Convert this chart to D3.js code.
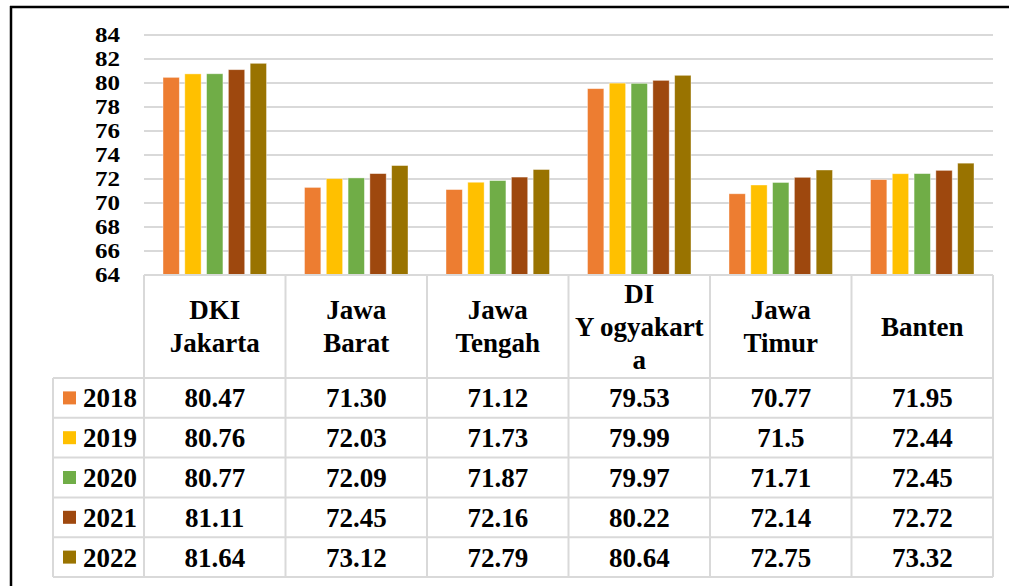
<!DOCTYPE html>
<html>
<head>
<meta charset="utf-8">
<script src="https://cdn.jsdelivr.net/npm/d3@7"></script>
<style>
  body { margin: 0; background: #fff; }
  svg text { font-family: "Times New Roman", Times, "Liberation Serif", Tinos, "Noto Serif", "DejaVu Serif", serif; font-weight: 700; fill: #000; }
</style>
</head>
<body>
<svg id="chart"></svg>
<script>
// provinces as written in the table header (line breaks kept)
var provinces = ["DKI Jakarta", "Jawa Barat", "Jawa Tengah", "DI Yogyakarta", "Jawa Timur", "Banten"];
var provinceLines = [["DKI", "Jakarta"], ["Jawa", "Barat"], ["Jawa", "Tengah"], ["DI", "Y ogyakart", "a"], ["Jawa", "Timur"], ["Banten"]];
var years = ["2018", "2019", "2020", "2021", "2022"];
var yearColors = ["#ED7D31", "#FFC000", "#70AD47", "#9E480E", "#997300"];

// values per year, in province order
var v2018 = [80.47, 71.30, 71.12, 79.53, 70.77, 71.95];
var v2019 = [80.76, 72.03, 71.73, 79.99, 71.5, 72.44];
var v2020 = [80.77, 72.09, 71.87, 79.97, 71.71, 72.45];
var v2021 = [81.11, 72.45, 72.16, 80.22, 72.14, 72.72];
var v2022 = [81.64, 73.12, 72.79, 80.64, 72.75, 73.32];
var labels2019 = ["80.76", "72.03", "71.73", "79.99", "71.5", "72.44"];

var yTicks = [64, 66, 68, 70, 72, 74, 76, 78, 80, 82, 84];

var series = [v2018, v2019, v2020, v2021, v2022];

const width = 1009, height = 586;
const plotLeft = 144, plotRight = 993, plotTop = 35, plotBottom = 275;
const tableBottom = 577, headerBottom = 378, legendLeft = 53;

const svg = d3.select("#chart").attr("width", width).attr("height", height);

const x0 = d3.scaleBand().domain(provinces).range([plotLeft, plotRight]);
const x1 = d3.scaleBand().domain(years).range([19, x0.bandwidth() - 19]).paddingInner(0.25);
const y = d3.scaleLinear().domain([64, 84]).range([plotBottom, plotTop]);
const rowScale = d3.scaleBand().domain(years).range([headerBottom, tableBottom]);

// frame (left + top black lines)
svg.append("line").attr("x1", 11).attr("x2", 11).attr("y1", 6).attr("y2", height)
  .attr("stroke", "#000").attr("stroke-width", 2.5);
svg.append("line").attr("x1", 10).attr("x2", width).attr("y1", 7).attr("y2", 7)
  .attr("stroke", "#000").attr("stroke-width", 2.5);

// gridlines
svg.append("g").selectAll("line")
  .data(yTicks.filter(d => d > 64))
  .join("line")
  .attr("x1", plotLeft).attr("x2", plotRight)
  .attr("y1", d => y(d)).attr("y2", d => y(d))
  .attr("stroke", "#d9d9d9").attr("stroke-width", 2);

// y tick labels
svg.append("g").selectAll("text")
  .data(yTicks)
  .join("text")
  .attr("x", 120).attr("y", d => y(d))
  .attr("text-anchor", "end").attr("dy", "0.33em")
  .attr("font-size", 21)
  .attr("textLength", 25).attr("lengthAdjust", "spacingAndGlyphs")
  .text(d => d);

// bars
const groups = svg.append("g").selectAll("g")
  .data(provinces)
  .join("g")
  .attr("transform", d => `translate(${x0(d)},0)`);

groups.selectAll("rect")
  .data((p, i) => years.map((yr, j) => ({ year: yr, value: series[j][i], color: yearColors[j] })))
  .join("rect")
  .attr("x", d => x1(d.year))
  .attr("width", x1.bandwidth())
  .attr("y", d => y(d.value))
  .attr("height", d => plotBottom - y(d.value))
  .attr("fill", d => d.color)
  .attr("stroke", "rgba(255,255,255,0.5)").attr("stroke-width", 0.8);

// data table grid
const grid = svg.append("g").attr("stroke", "#d9d9d9").attr("stroke-width", 2);
grid.append("line").attr("x1", plotLeft).attr("x2", plotRight).attr("y1", plotBottom).attr("y2", plotBottom);
grid.selectAll("line.row")
  .data(years.map(yr => rowScale(yr)).concat([tableBottom]))
  .join("line").attr("class", "row")
  .attr("x1", legendLeft).attr("x2", plotRight)
  .attr("y1", d => d).attr("y2", d => d);
grid.selectAll("line.col")
  .data(provinces.map(p => x0(p)).concat([plotRight]))
  .join("line").attr("class", "col")
  .attr("x1", d => d).attr("x2", d => d)
  .attr("y1", plotBottom).attr("y2", tableBottom);
grid.append("line").attr("x1", legendLeft).attr("x2", legendLeft).attr("y1", headerBottom).attr("y2", tableBottom);

// header texts
const headerMid = (plotBottom + headerBottom) / 2;
const lineH = 33;
svg.append("g").selectAll("text")
  .data(provinces)
  .join("text")
  .attr("font-size", 27)
  .attr("text-anchor", "middle")
  .each(function (p, i) {
    const lines = provinceLines[i];
    const t = d3.select(this);
    lines.forEach((ln, k) => {
      t.append("tspan")
        .attr("x", x0(p) + x0.bandwidth() / 2)
        .attr("y", headerMid + (k - (lines.length - 1) / 2) * lineH)
        .attr("dy", "0.35em")
        .text(ln);
    });
  });

// legend keys + year labels
const legendRows = svg.append("g").selectAll("g")
  .data(years)
  .join("g")
  .attr("transform", d => `translate(0,${rowScale(d) + rowScale.bandwidth() / 2})`);
legendRows.append("rect")
  .attr("x", 63).attr("y", -6.5).attr("width", 13).attr("height", 13)
  .attr("fill", (d, i) => yearColors[i]);
legendRows.append("text")
  .attr("x", 83).attr("dy", "0.35em")
  .attr("font-size", 27)
  .text(d => d);

// values
const fmt = d3.format(".2f");
years.forEach((yr, j) => {
  svg.append("g").selectAll("text")
    .data(provinces)
    .join("text")
    .attr("x", p => x0(p) + x0.bandwidth() / 2)
    .attr("y", rowScale(yr) + rowScale.bandwidth() / 2)
    .attr("dy", "0.35em")
    .attr("text-anchor", "middle")
    .attr("font-size", 27)
    .text((p, i) => yr === "2019" ? labels2019[i] : fmt(series[j][i]));
});
</script>
</body>
</html>
